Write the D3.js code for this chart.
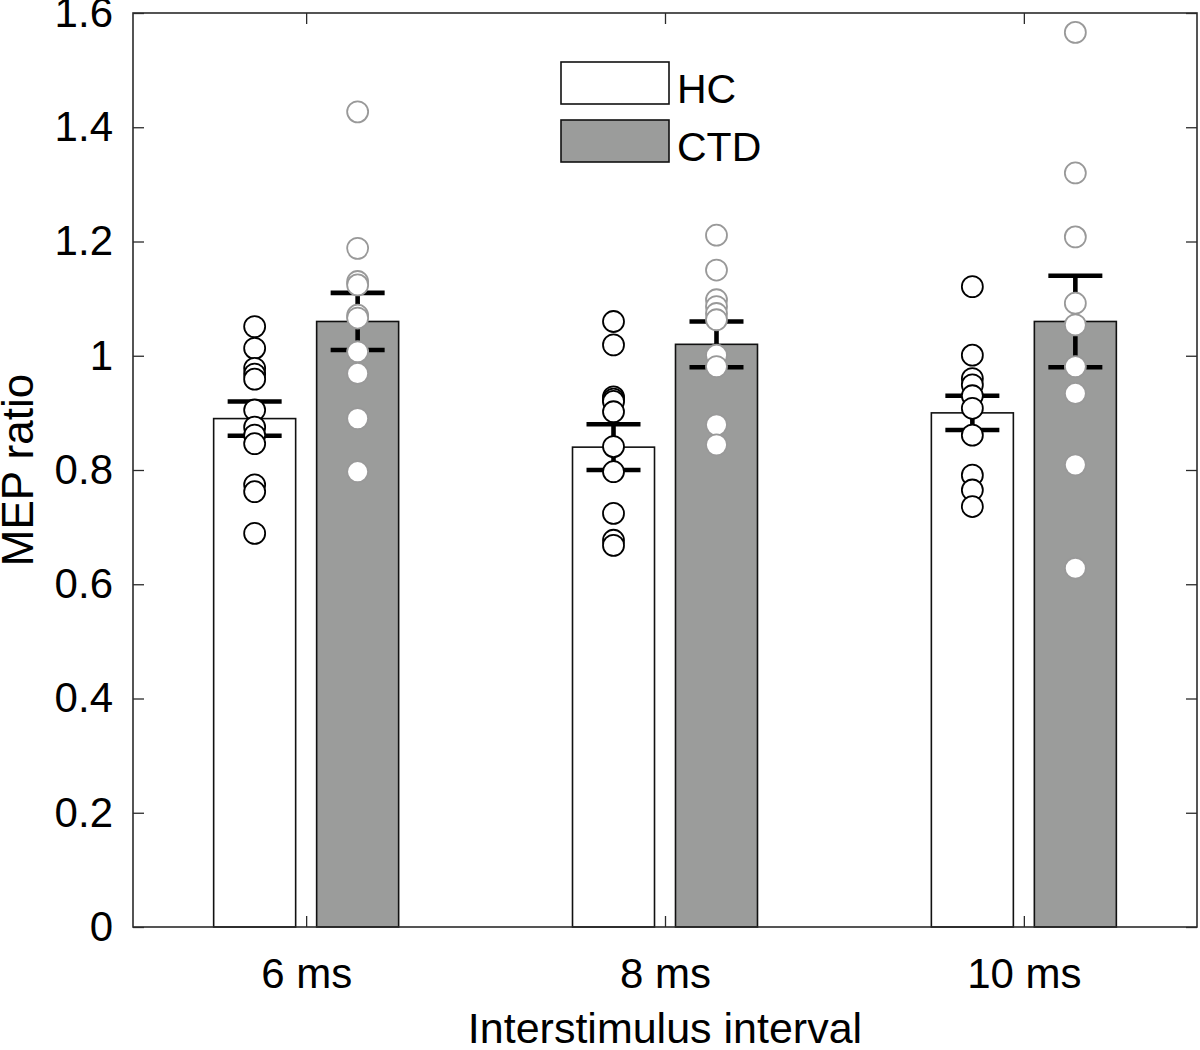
<!DOCTYPE html>
<html>
<head>
<meta charset="utf-8">
<script src="https://cdn.jsdelivr.net/npm/d3@7"></script>
<style>
  html, body { margin: 0; padding: 0; background: #fff; }
  svg { display: block; }
  text { font-family: "Liberation Sans", Arial, Helvetica, sans-serif; fill: #000; }
</style>
</head>
<body>
<svg id="chart" width="1200" height="1050"></svg>
<script>
// ---------------- data ----------------
const categories = ["6 ms", "8 ms", "10 ms"];
const seriesNames = ["HC", "CTD"];
const hcMeans = [0.89, 0.84, 0.90];
const hcSEM = [0.03, 0.04, 0.03];
const ctdMeans = [1.06, 1.02, 1.06];
const ctdSEM = [0.05, 0.04, 0.08];
const hcPoints = [
  [1.051, 1.013, 0.978, 0.968, 0.959, 0.905, 0.875, 0.861, 0.846, 0.774, 0.762, 0.689],
  [1.060, 1.019, 0.928, 0.924, 0.920, 0.902, 0.841, 0.797, 0.724, 0.677, 0.668],
  [1.121, 1.001, 0.960, 0.949, 0.930, 0.908, 0.861, 0.791, 0.765, 0.736]
];
const ctdPoints = [
  [1.427, 1.188, 1.130, 1.124, 1.071, 1.066, 1.007, 0.969, 0.890, 0.797],
  [1.211, 1.150, 1.098, 1.086, 1.074, 1.063, 1.001, 0.981, 0.879, 0.844],
  [1.566, 1.320, 1.208, 1.092, 1.054, 0.981, 0.934, 0.809, 0.628]
];
const yTicks = [0, 0.2, 0.4, 0.6, 0.8, 1, 1.2, 1.4, 1.6];
const xAxisTitle = "Interstimulus interval";
const yAxisTitle = "MEP ratio";

// ---------------- layout ----------------
const L = 133, R = 1197, T = 13, B = 927;
const barColor = ["#ffffff", "#9b9c9b"];
const pointStroke = ["#000000", "#999999"];
const groupOffset = 0.1435, barW = 0.2285;

const svg = d3.select("#chart");
const x = d3.scaleLinear().domain([0.5175, 3.4825]).range([L, R]);
const y = d3.scaleLinear().domain([0, 1.6]).range([B, T]);

const fmt = d => (d === 0 ? "0" : String(+d.toFixed(1)));

// bars
const groups = categories.map((c, i) => ({
  i, pos: i + 1,
  series: [
    { s: 0, mean: hcMeans[i], sem: hcSEM[i], pts: hcPoints[i] },
    { s: 1, mean: ctdMeans[i], sem: ctdSEM[i], pts: ctdPoints[i] }
  ]
}));
const barData = groups.flatMap(g => g.series.map(s => ({ ...s, cx: g.pos + (s.s === 0 ? -groupOffset : groupOffset) })));

svg.append("g").selectAll("rect").data(barData).join("rect")
  .attr("x", d => x(d.cx - barW / 2))
  .attr("width", d => x(d.cx + barW / 2) - x(d.cx - barW / 2))
  .attr("y", d => y(d.mean))
  .attr("height", d => y(0) - y(d.mean))
  .attr("fill", d => barColor[d.s])
  .attr("stroke", "#111")
  .attr("stroke-width", 1.6);

// error bars
const eb = svg.append("g").attr("stroke", "#000").attr("stroke-width", 4.6).attr("fill", "none");
const capHalf = 27;
barData.forEach(d => {
  const cx = x(d.cx);
  eb.append("line").attr("x1", cx).attr("x2", cx).attr("y1", y(d.mean - d.sem)).attr("y2", y(d.mean + d.sem));
  eb.append("line").attr("x1", cx - capHalf).attr("x2", cx + capHalf).attr("y1", y(d.mean + d.sem)).attr("y2", y(d.mean + d.sem));
  eb.append("line").attr("x1", cx - capHalf).attr("x2", cx + capHalf).attr("y1", y(d.mean - d.sem)).attr("y2", y(d.mean - d.sem));
});

// points
const ptData = barData.flatMap(d => d.pts.map(v => ({ v, s: d.s, cx: d.cx })));
svg.append("g").selectAll("circle").data(ptData).join("circle")
  .attr("cx", d => x(d.cx))
  .attr("cy", d => y(d.v))
  .attr("r", 10.5)
  .attr("fill", "#fff")
  .attr("stroke", d => pointStroke[d.s])
  .attr("stroke-width", 1.8);

// axes frame
const axisColor = "#2b2b2b";
const yAxisL = d3.axisLeft(y).tickValues(yTicks).tickFormat(fmt).tickSizeInner(-11).tickSizeOuter(0).tickPadding(20);
const gy = svg.append("g").attr("transform", `translate(${L},0)`).call(yAxisL);
gy.select(".domain").remove();
gy.selectAll("line").attr("stroke", axisColor).attr("stroke-width", 1.3);
gy.selectAll("text").attr("font-size", 42).attr("fill", "#000");

const yAxisR = d3.axisRight(y).tickValues(yTicks).tickFormat("").tickSizeInner(-11).tickSizeOuter(0);
const gyr = svg.append("g").attr("transform", `translate(${R},0)`).call(yAxisR);
gyr.select(".domain").remove();
gyr.selectAll("line").attr("stroke", axisColor).attr("stroke-width", 1.3);

const xAxisB = d3.axisBottom(x).tickValues([1, 2, 3]).tickFormat((d, i) => categories[i]).tickSizeInner(-11).tickSizeOuter(0).tickPadding(31);
const gx = svg.append("g").attr("transform", `translate(0,${B})`).call(xAxisB);
gx.select(".domain").remove();
gx.selectAll("line").attr("stroke", axisColor).attr("stroke-width", 1.3);
gx.selectAll("text").attr("font-size", 42).attr("fill", "#000");

const xAxisT = d3.axisTop(x).tickValues([1, 2, 3]).tickFormat("").tickSizeInner(-11).tickSizeOuter(0);
const gxt = svg.append("g").attr("transform", `translate(0,${T})`).call(xAxisT);
gxt.select(".domain").remove();
gxt.selectAll("line").attr("stroke", axisColor).attr("stroke-width", 1.3);

svg.append("rect").attr("x", L).attr("y", T).attr("width", R - L).attr("height", B - T)
  .attr("fill", "none").attr("stroke", axisColor).attr("stroke-width", 1.6);

// axis titles
svg.append("text").attr("x", (L + R) / 2).attr("y", 1043).attr("text-anchor", "middle")
  .attr("font-size", 43).text(xAxisTitle);
svg.append("text").attr("transform", `translate(33,470) rotate(-90)`).attr("text-anchor", "middle")
  .attr("font-size", 44).text(yAxisTitle);

// legend
const leg = svg.append("g");
const legRows = [{ y0: 62, name: seriesNames[0], s: 0 }, { y0: 120, name: seriesNames[1], s: 1 }];
legRows.forEach(r => {
  leg.append("rect").attr("x", 561).attr("y", r.y0).attr("width", 108).attr("height", 42)
    .attr("fill", barColor[r.s]).attr("stroke", "#111").attr("stroke-width", 1.6);
  leg.append("text").attr("x", 677).attr("y", r.y0 + 41).attr("font-size", 41).text(r.name);
});
</script>
</body>
</html>
